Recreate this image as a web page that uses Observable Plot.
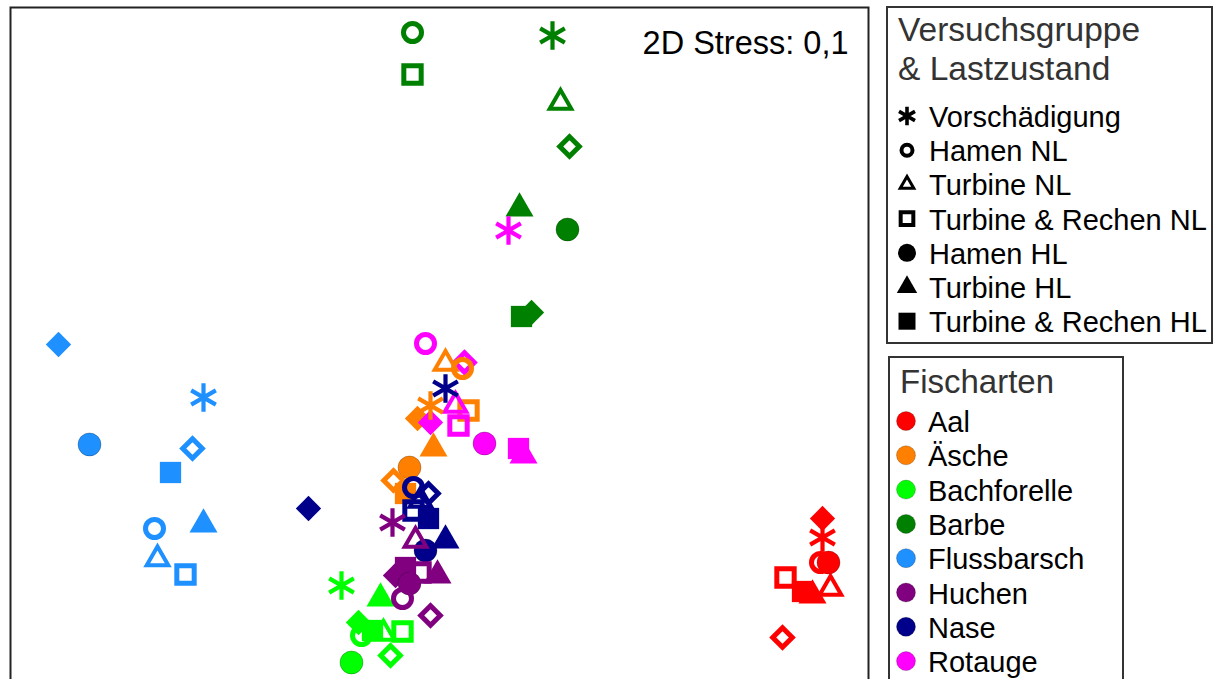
<!DOCTYPE html>
<html><head><meta charset="utf-8">
<script src="https://cdn.jsdelivr.net/npm/d3@7"></script>
<script src="https://cdn.jsdelivr.net/npm/@observablehq/plot@0.6"></script>
<style>
html,body{margin:0;padding:0;overflow:hidden;background:#fff;width:1214px;height:679px}
#wrap{position:relative;width:1214px;height:679px;font-family:"Liberation Sans",Arial,Helvetica,sans-serif}
#chart{position:absolute;left:0;top:0}
#leg1{position:absolute;left:886px;top:5px}
#leg2{position:absolute;left:888px;top:356px}
</style>
</head><body>
<div id="wrap"><div id="chart"></div><svg id="leg1" width="328" height="340"></svg><svg id="leg2" width="236" height="330"></svg></div>
<script>
// Species (Fischarten) and their colours
const species = ["Aal","Äsche","Bachforelle","Barbe","Flussbarsch","Huchen","Nase","Rotauge"];
const speciesColors = ["#FF0000","#FF8000","#00FF00","#008000","#1E90FF","#800080","#00008B","#FF00FF"];
// Groups (Versuchsgruppe & Lastzustand); the two diamond groups are not in the legend
const groups = ["Vorschädigung","Hamen NL","Turbine NL","Turbine & Rechen NL","Hamen HL","Turbine HL","Turbine & Rechen HL","Rauten offen","Rauten gefüllt"];
const legendGroups = ["Vorschädigung","Hamen NL","Turbine NL","Turbine & Rechen NL","Hamen HL","Turbine HL","Turbine & Rechen HL"];
const stressLabel = "2D Stress: 0,1";

// NMDS coordinates [NMDS1, NMDS2] per species, in the order of `groups`
const aal         = [[1.96,-1.05],[1.95,-1.175],[2.0,-1.305],[1.775,-1.25],[1.99,-1.175],[1.91,-1.34],[1.86,-1.32],[1.76,-1.55],[1.96,-0.955]];
const aesche      = [[0.0,-0.39],[0.16,-0.205],[0.075,-0.18],[0.19,-0.415],[-0.105,-0.70],[0.015,-0.605],[-0.125,-0.83],[-0.185,-0.765],[-0.065,-0.455]];
const bachforelle = [[-0.445,-1.29],[-0.345,-1.54],[-0.235,-1.53],[-0.14,-1.52],[-0.395,-1.675],[-0.25,-1.355],[-0.29,-1.515],[-0.20,-1.64],[-0.36,-1.475]];
const barbe       = [[0.61,1.46],[-0.09,1.475],[0.65,1.125],[-0.09,1.265],[0.685,0.49],[0.445,0.595],[0.455,0.055],[0.695,0.905],[0.505,0.075]];
const flussbarsch = [[-1.135,-0.35],[-1.38,-1.005],[-1.365,-1.1575],[-1.225,-1.235],[-1.705,-0.585],[-1.135,-0.985],[-1.30,-0.725],[-1.19,-0.605],[-1.86,-0.085]];
const huchen      = [[-0.19,-0.975],[-0.14,-1.355],[-0.075,-1.065],[-0.05,-1.225],[-0.105,-1.28],[0.035,-1.24],[-0.125,-1.20],[0.0,-1.44],[-0.175,-1.24]];
const nase        = [[0.075,-0.305],[-0.085,-0.80],[-0.05,-0.865],[-0.085,-0.915],[-0.025,-1.115],[0.075,-1.065],[-0.01,-0.955],[-0.01,-0.83],[-0.61,-0.905]];
const rotauge     = [[0.39,0.485],[-0.025,-0.08],[0.125,-0.39],[0.14,-0.49],[0.27,-0.58],[0.465,-0.64],[0.44,-0.605],[0.17,-0.175],[0.0,-0.475]];

const coords = [aal, aesche, bachforelle, barbe, flussbarsch, huchen, nase, rotauge];
const rows = [];
species.forEach((s, i) => coords[i].forEach((p, g) => rows.push({art: s, gruppe: groups[g], nmds1: p[0], nmds2: p[1]})));
const only = g => rows.filter(d => d.gruppe === g);

const base = {x: "nmds1", y: "nmds2"};
const chart = Plot.plot({
  width: 880, height: 700,
  marginLeft: 10, marginRight: 12, marginTop: 7, marginBottom: 0,
  x: {domain: [-2.1, 2.19], axis: null},
  y: {domain: [-1.865, 1.6], axis: null},
  color: {domain: species, range: speciesColors},
  style: {fontFamily: '"Liberation Sans", Arial, Helvetica, sans-serif', background: "white"},
  marks: [
    Plot.dot(only("Rauten gefüllt"), {...base, symbol: "diamond2", r: 11.4, fill: "art"}),
    Plot.dot(only("Turbine & Rechen HL"), {...base, symbol: "square", r: 12, fill: "art"}),
    Plot.dot(only("Turbine HL"), {...base, symbol: "triangle", r: 10.4, fill: "art"}),
    Plot.dot(only("Hamen HL"), {...base, symbol: "circle", r: 11.5, fill: "art", stroke: "#000", strokeOpacity: 0.35, strokeWidth: 0.7}),
    Plot.dot(only("Rauten offen"), {...base, symbol: "diamond2", r: 8.8, fill: "none", stroke: "art", strokeWidth: 5, strokeLinejoin: "miter"}),
    Plot.dot(only("Turbine & Rechen NL"), {...base, symbol: "square", r: 9.8, fill: "none", stroke: "art", strokeWidth: 5, strokeLinejoin: "miter"}),
    Plot.dot(only("Turbine NL"), {...base, symbol: "triangle", r: 8.0, fill: "none", stroke: "art", strokeWidth: 4, strokeLinejoin: "miter"}),
    Plot.dot(only("Hamen NL"), {...base, symbol: "circle", r: 9, fill: "none", stroke: "art", strokeWidth: 5}),
    Plot.dot(only("Vorschädigung"), {...base, symbol: "asterisk", r: 13.5, fill: "none", stroke: "art", strokeWidth: 4.2}),
    Plot.text([stressLabel], {text: d => d, frameAnchor: "top-right", textAnchor: "end", lineAnchor: "top", dx: -20, dy: 23, fontSize: 32.5, fill: "#000"}),
    Plot.frame({stroke: "#222", strokeWidth: 2})
  ]
});
document.getElementById("chart").appendChild(chart);

// Legend 1: groups (shapes)
const legShapes = [
  {sym: d3.symbolAsterisk, size: 240, fill: "none", stroke: "#000", sw: 3.6},
  {sym: d3.symbolCircle, size: 95, fill: "none", stroke: "#000", sw: 4},
  {sym: d3.symbolTriangle, size: 80, fill: "none", stroke: "#000", sw: 3},
  {sym: d3.symbolSquare, size: 160, fill: "none", stroke: "#000", sw: 4},
  {sym: d3.symbolCircle, size: 254, fill: "#000", stroke: "none", sw: 0},
  {sym: d3.symbolTriangle, size: 180, fill: "#000", stroke: "none", sw: 0},
  {sym: d3.symbolSquare, size: 289, fill: "#000", stroke: "none", sw: 0}
];
const l1 = d3.select("#leg1");
l1.append("rect").attr("x", 1).attr("y", 2).attr("width", 325).attr("height", 336).attr("fill", "#fff").attr("stroke", "#333").attr("stroke-width", 2);
l1.append("text").attr("x", 12).attr("y", 36).attr("font-size", 33.5).attr("fill", "#333").text("Versuchsgruppe");
l1.append("text").attr("x", 12).attr("y", 75).attr("font-size", 33.5).attr("fill", "#333").text("& Lastzustand");
legendGroups.forEach((g, i) => {
  const yb = 122 + i * 34.2;
  const s = legShapes[i];
  l1.append("path").attr("d", d3.symbol(s.sym, s.size)()).attr("transform", `translate(21,${yb - 11})`)
    .attr("fill", s.fill).attr("stroke", s.stroke).attr("stroke-width", s.sw).attr("stroke-linejoin", "miter");
  l1.append("text").attr("x", 43).attr("y", yb).attr("font-size", 29).attr("fill", "#000").text(g);
});

// Legend 2: species (colours)
const l2 = d3.select("#leg2");
l2.append("rect").attr("x", 1).attr("y", 1).attr("width", 234).attr("height", 400).attr("fill", "#fff").attr("stroke", "#333").attr("stroke-width", 2);
l2.append("text").attr("x", 12).attr("y", 37).attr("font-size", 33).attr("fill", "#333").text("Fischarten");
species.forEach((s, i) => {
  const yb = 76 + i * 34.3;
  l2.append("circle").attr("cx", 18).attr("cy", yb - 11).attr("r", 9.5).attr("fill", speciesColors[i]).attr("stroke", "rgba(0,0,0,0.3)").attr("stroke-width", 0.7);
  l2.append("text").attr("x", 40).attr("y", yb).attr("font-size", 29).attr("fill", "#000").text(s);
});
</script>
</body></html>
